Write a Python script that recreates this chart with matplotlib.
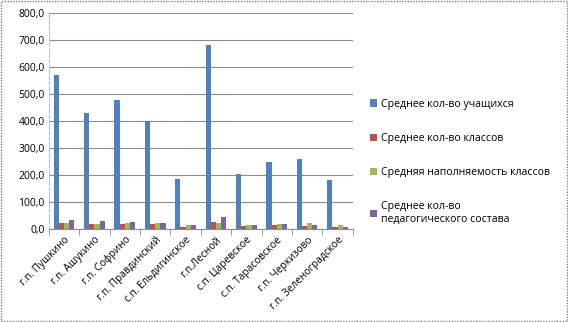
import numpy as np
import matplotlib
matplotlib.use("Agg")
import matplotlib.pyplot as plt
from matplotlib.patches import Rectangle

plt.rcParams['font.family'] = ['Open Sans', 'DejaVu Sans']

# Данные
categories = ["г.п. Пушкино", "г.п. Ашукино", "г.п. Софрино", "г.п. Правдинский",
              "с.п. Ельдигинское", "г.п.Лесной", "с.п. Царевское", "с.п. Тарасовское",
              "г.п. Черкизово", "г.п. Зеленоградское"]
students = [570, 428, 476, 400, 186, 680, 202, 247, 260, 182]
classes = [22, 17, 20, 17, 9, 27, 10, 13, 10, 9]
fill_rate = [21, 20, 22, 22, 16, 23, 16, 17, 21, 15]
teachers = [34, 30, 27, 23, 16, 44, 13, 17, 13, 8]

series = [students, classes, fill_rate, teachers]
labels = ["Среднее кол-во учащихся", "Среднее кол-во классов",
          "Средняя наполняемость классов", "Среднее кол-во\nпедагогического состава"]
colors = ["#4F81BD", "#C0504D", "#9BBB59", "#8064A2"]

fig = plt.figure(figsize=(5.68, 3.22), dpi=100)
ax = fig.add_axes([0.086, 0.289, 0.535, 0.671])

x = np.arange(len(categories))
w = 0.17
for i, (vals, lab, col) in enumerate(zip(series, labels, colors)):
    ax.bar(x + (i - 1.5) * w, vals, w, color=col, label=lab, zorder=3)

ax.set_ylim(0, 800)
ax.set_xlim(-0.5, len(categories) - 0.5)
ax.set_yticks(np.arange(0, 801, 100))
ax.set_yticklabels([f"{v:.1f}".replace(".", ",") for v in np.arange(0, 801, 100)], fontsize=7.5)
ax.yaxis.grid(True, color="#8c8c8c", linewidth=0.8, zorder=0)
ax.set_xticks(x)
ax.set_xticklabels(categories, rotation=45, ha="right", rotation_mode="anchor", fontsize=7.3)
ax.set_xticks(np.arange(-0.5, len(categories)), minor=True)
ax.tick_params(axis="x", which="major", length=0, pad=4)
ax.tick_params(axis="x", which="minor", length=4, color="#8c8c8c")
ax.tick_params(axis="y", length=0, pad=3)
for s in ["top", "right"]:
    ax.spines[s].set_visible(False)
ax.spines["left"].set_color("#bfbfbf")
ax.spines["left"].set_linestyle((0, (3, 2)))
ax.spines["bottom"].set_color("#8c8c8c")

ax.legend(loc="center left", bbox_to_anchor=(1.025, 0.31), frameon=False, fontsize=7.6,
          handlelength=0.7, handleheight=0.7, handletextpad=0.4, labelspacing=2.2)

fig.patches.append(Rectangle((0.002, 0.003), 0.996, 0.994, transform=fig.transFigure,
                             fill=False, edgecolor="#808080", linestyle=(0, (1, 1)),
                             linewidth=1.0))

fig.savefig("out.png", dpi=100)
